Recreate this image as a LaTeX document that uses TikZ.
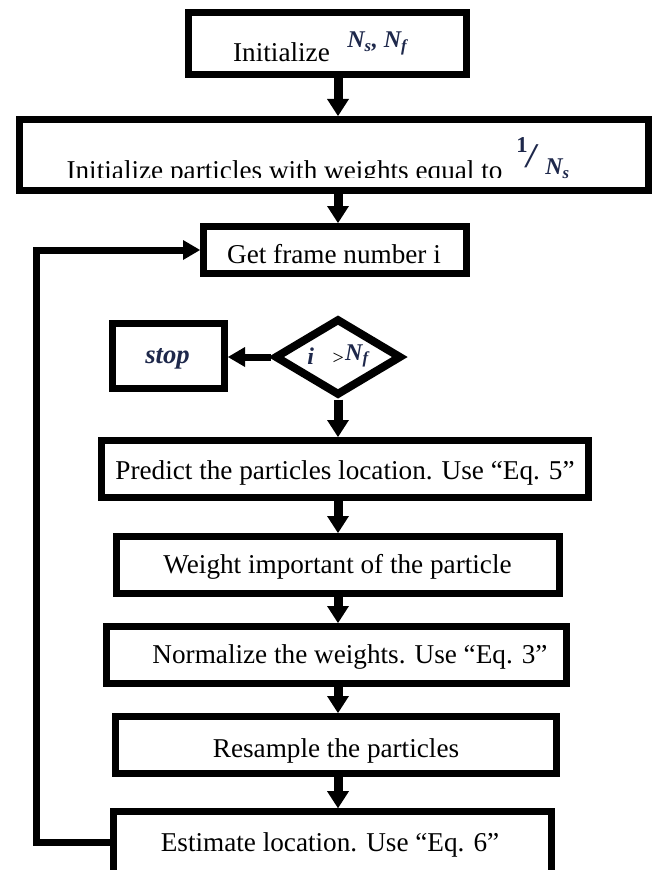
\documentclass[tikz,border=0pt]{standalone}
\usepackage{fontspec}
\setmainfont{Liberation Serif}
\usetikzlibrary{arrows.meta,shapes.geometric}
\definecolor{mathink}{RGB}{30,40,75}
\begin{document}
\begin{tikzpicture}[x=0.75pt,y=-0.75pt,
  box/.style={draw,line width=5.25pt,inner sep=0pt,line join=miter},
  dbox/.style={draw,diamond,line width=6pt,inner sep=0pt,line join=miter},
  txt/.style={inner sep=0pt,anchor=base,font=\fontsize{20.4}{24}\selectfont},
  mtxt/.style={inner sep=0pt,text=mathink,font=\fontsize{18}{20}\selectfont\bfseries\itshape},
  varrow/.style={line width=6.75pt,-{Triangle[width=16.5pt,length=12.75pt,line width=0pt]}},
  harrow/.style={line width=5.25pt,line join=miter,-{Triangle[width=15pt,length=12.75pt,line width=0pt]}}]
\useasboundingbox (0,0) rectangle (656,870);

% boxes
\node[box,minimum width=208.5pt,minimum height=46.5pt] (b1) at (327.5,43.5) {};
\node[box,minimum width=471.75pt,minimum height=53.25pt] (b2) at (334,155) {};
\node[box,minimum width=197.25pt,minimum height=35.25pt] (b3) at (335,250) {};
\node[dbox,minimum width=95.25pt,minimum height=57.75pt] (dia) at (338,357) {};
\node[box,minimum width=84pt,minimum height=48.75pt] (stop) at (168.5,356) {};
\node[box,minimum width=365.25pt,minimum height=42.75pt] (pred) at (345,469) {};
\node[box,minimum width=332.25pt,minimum height=42.75pt] (wgt) at (338,565) {};
\node[box,minimum width=345pt,minimum height=42.75pt] (norm) at (336.5,655) {};
\node[box,minimum width=330.75pt,minimum height=42.75pt] (res) at (336,745) {};
\node[box,minimum width=328.5pt,minimum height=86pt] (est) at (332.5,869) {};

% texts
\node[txt] (t1) at (281.5,62) {Initialize};
\node[mtxt,anchor=base west] (t1m) at (347,48) {N\textsubscript{s}, N\textsubscript{f}};

\begin{scope}
  \clip (20,120) rectangle (648,177);
  \node[txt] (t2) at (284.5,180) {Initialize particles with weights equal to};
\end{scope}
\node[inner sep=0pt,anchor=base west,text=mathink,font=\fontsize{17}{20}\selectfont\bfseries] (one) at (516,152) {1};
\node[inner sep=0pt,anchor=base west,text=mathink,font=\fontsize{26}{28}\selectfont\bfseries\itshape] (slash) at (526,167) {/};
\node[mtxt,anchor=base west] (ns) at (545,175) {N\textsubscript{s}};

\node[txt] (t3) at (334,263) {Get frame number i};
\node[inner sep=0pt,anchor=base west] (dtext) at (307,364)
  {{\fontsize{18}{20}\selectfont\bfseries\itshape\color{mathink}i}\hspace{14pt}{\fontsize{15}{18}\selectfont >}\hspace{1pt}\raisebox{3pt}{\color{mathink}\fontsize{18}{20}\selectfont\bfseries\itshape N\textsubscript{f}}};
\node[inner sep=0pt,anchor=base,text=mathink,font=\fontsize{20}{24}\selectfont\bfseries\itshape] (tstop) at (167.5,363) {stop};
\node[txt] (tp) at (345,479) {Predict the particles location. Use “Eq. 5”};
\node[txt] (tw) at (337.5,573) {Weight important of the particle};
\node[txt] (tn) at (350,663) {Normalize the weights. Use “Eq. 3”};
\node[txt] (tr) at (336,757) {Resample the particles};
\node[txt] (te) at (330,851) {Estimate location. Use “Eq. 6”};

% connectors
\coordinate (ax) at (338,0);
\coordinate (lb) at (36,842);
\draw[varrow] (b1.south -| ax) -- (b2.north -| ax);
\draw[varrow] (b2.south -| ax) -- (b3.north -| ax);
\draw[harrow] (dia.west) -- (stop.east |- dia.west);
\draw[varrow] (dia.south) -- (pred.north -| dia.south);
\draw[varrow] (pred.south -| ax) -- (wgt.north -| ax);
\draw[varrow] (wgt.south -| ax) -- (norm.north -| ax);
\draw[varrow] (norm.south -| ax) -- (res.north -| ax);
\draw[varrow] (res.south -| ax) -- (est.north -| ax);
\draw[harrow] (est.west |- lb) -- (lb) -- (lb |- b3.west) -- (b3.west);
\end{tikzpicture}
\end{document}
